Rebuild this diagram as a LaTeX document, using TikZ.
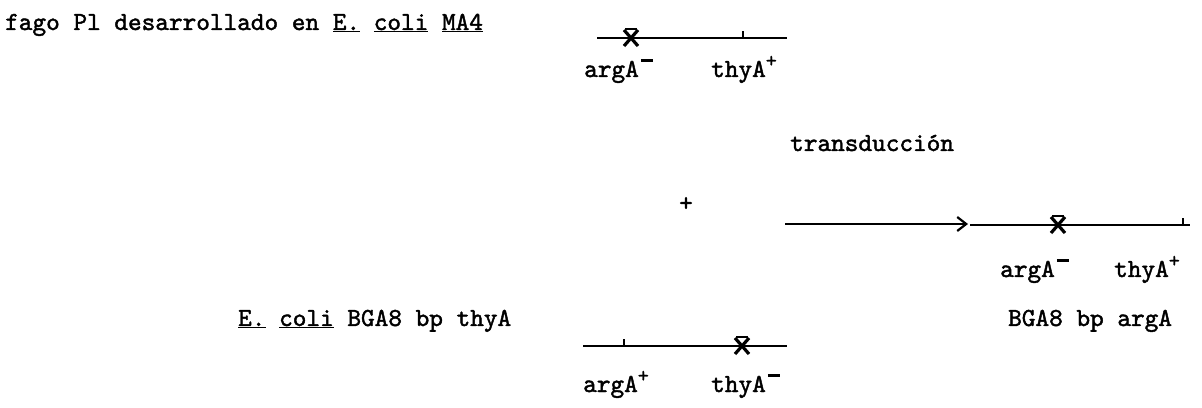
\documentclass[tikz,border=0pt]{standalone}
\usepackage{fontspec}
\usetikzlibrary{arrows.meta}
% heavy typewriter face
\newfontfamily\typed[FakeBold=1.6]{lmmono10-regular.otf}
\newcommand{\supminus}{\hspace{0.08em}\raisebox{0.58em}{\rule{0.48em}{0.11em}}}
\newcommand{\supplus}{\raisebox{0.38em}{\fontsize{21}{24}\selectfont +}}
\begin{document}
\begin{tikzpicture}[x=1pt,y=1pt,
  txt/.style={anchor=base west,inner sep=0pt,font=\fontsize{26}{30}\selectfont\typed},
  chrom/.style={line width=2.4pt},
  tick/.style={line width=2pt},
  mutmark/.style={line width=3.2pt},
  arr/.style={line width=2.2pt,-{Straight Barb[length=9pt,width=14pt,line width=2.2pt]}}]
\useasboundingbox (0,0) rectangle (1202,407);

% phage donor
\node[txt] (donor) at (5,377) {fago Pl desarrollado en \underline{E.} \underline{coli} \underline{MA4}};
\coordinate (d1) at (597,369);
\coordinate (d2) at (787,369);
\draw[chrom] (d1) -- (d2);
\draw[tick] (743,369) -- (743,376);
\draw[mutmark] (624,377) -- (638,361) (624,361) -- (638,377);
\draw[line width=2.2pt] (625,378) -- (637,378);
\node[txt] (dargA) at (584,330) {argA\supminus};
\node[txt] (dthyA) at (711,330) {thyA\supplus};

% transduction
\node[txt] (trans) at (790,256) {transducci\'on};
\node[txt] (plus) at (679,196) {+};
\coordinate (a1) at (785,183);
\coordinate (a2) at (968,183);
\draw[arr] (a1) -- (a2);

% recipient strain
\node[txt] (recip) at (238,81) {\underline{E.} \underline{coli} BGA8 bp thyA};
\coordinate (r1) at (583,61);
\coordinate (r2) at (787,61);
\draw[chrom] (r1) -- (r2);
\draw[tick] (624,61) -- (624,68);
\draw[mutmark] (735,69) -- (749,53) (735,53) -- (749,69);
\draw[line width=2.2pt] (736,70) -- (748,70);
\node[txt] (rargA) at (583,15) {argA\supplus};
\node[txt] (rthyA) at (711,15) {thyA\supminus};

% transductant
\coordinate (t1) at (970,182);
\coordinate (t2) at (1190,182);
\draw[chrom] (t1) -- (t2);
\draw[tick] (1183,182) -- (1183,189);
\draw[mutmark] (1051,190) -- (1065,174) (1051,174) -- (1065,190);
\draw[line width=2.2pt] (1052,191) -- (1064,191);
\node[txt] (targA) at (1000,130) {argA\supminus};
\node[txt] (tthyA) at (1114,130) {thyA\supplus};
\node[txt] (tname) at (1008,81) {BGA8 bp argA};
\end{tikzpicture}
\end{document}
